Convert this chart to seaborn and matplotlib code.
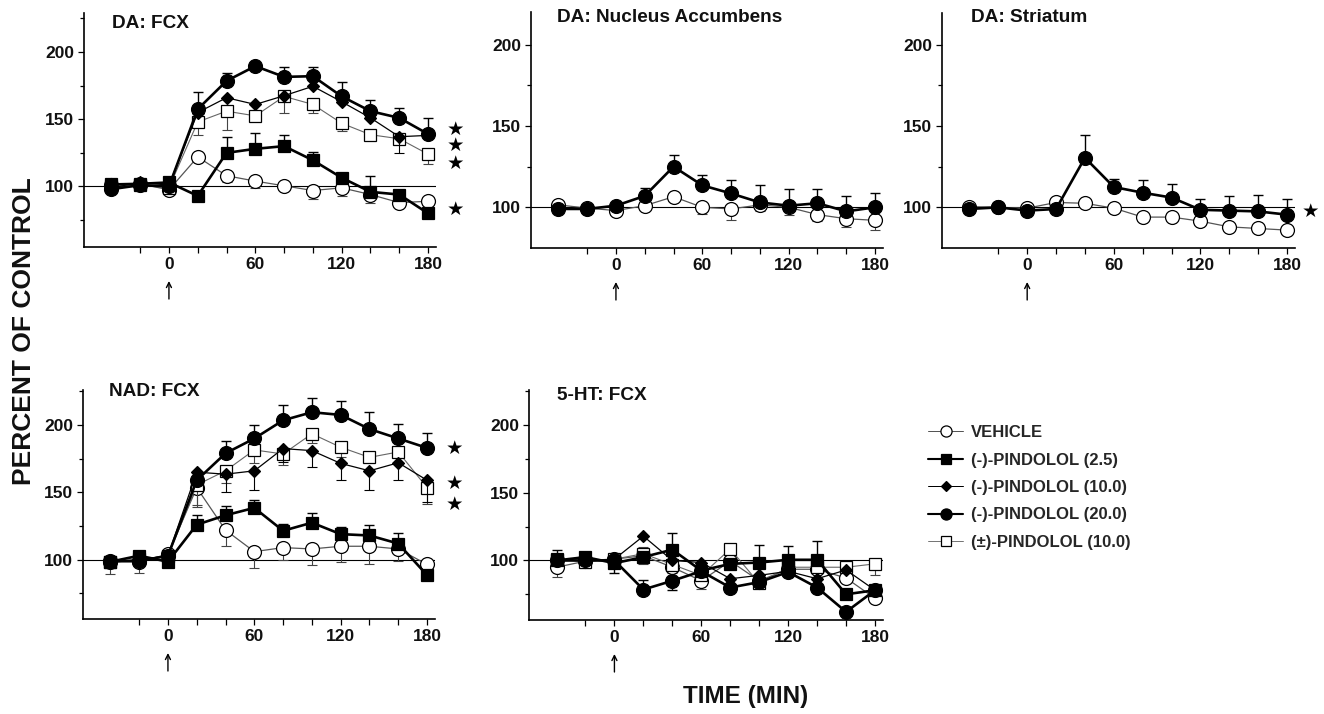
import numpy as np
import pandas as pd
import matplotlib
matplotlib.use("Agg")
import matplotlib.pyplot as plt
from matplotlib.lines import Line2D
import seaborn as sns

# ---------------------------------------------------------------- data
time_min = [-40, -20, 0, 20, 40, 60, 80, 100, 120, 140, 160, 180]

labels = ["VEHICLE", "(-)-PINDOLOL (2.5)", "(-)-PINDOLOL (10.0)",
          "(-)-PINDOLOL (20.0)", "(\u00b1)-PINDOLOL (10.0)"]
panel_titles = ["DA: FCX", "DA: Nucleus Accumbens", "DA: Striatum",
                "NAD: FCX", "5-HT: FCX"]

# error values: positive = SEM bar drawn upward, negative = drawn downward
# DA: FCX
da_fcx_vehicle = [101, 102, 97.5, 122, 108, 104, 100.5, 97, 99, 94, 88, 89]
da_fcx_vehicle_err = [-3, -2, -3, 0, -5, -5, -3, -6, -6, -6, -3, -3]
da_fcx_p25 = [101.5, 102, 103, 93, 125, 128, 130, 119.5, 106.5, 96, 94, 80]
da_fcx_p25_err = [2, 2, 2, 0, 12, 12, 8, 6, 0, 12, 0, 0]
da_fcx_p10 = [99, 103, 101, 155, 166, 161, 167.5, 174.5, 163, 151, 137, 138]
da_fcx_p10_err = [0, 0, 0, 0, 0, 0, 0, 0, 0, 0, -12, 0]
da_fcx_p20 = [98, 101, 100, 157.5, 178.5, 189.5, 181.5, 182, 167, 156, 151, 139]
da_fcx_p20_err = [0, 0, 0, 13, 6, 0, 7, 7, 11, 8, 7, 12]
da_fcx_pm10 = [100, 101, 99, 148, 156, 152.5, 167, 161, 147, 138.5, 135.5, 124]
da_fcx_pm10_err = [-4, 0, -4, -10, -14, 0, -12, -6, -6, 0, 0, -7]
da_fcx_stars = [142, 130, 116.5, 82]

# DA: Nucleus Accumbens
da_nac_vehicle = [101.5, 99.5, 98, 101, 106.5, 100, 99, 101.5, 100, 95.5, 93, 92]
da_nac_vehicle_err = [0, 0, 0, 0, 0, -4, -7, -4, -5, -4, -5, -6]
da_nac_p20 = [99, 99, 101, 107, 125, 113.5, 108.5, 103, 101, 102.5, 97.5, 100]
da_nac_p20_err = [0, 0, 0, 5, 7, 6.5, 8, 11, 10, 9, 9.5, 9]

# DA: Striatum
da_str_vehicle = [100.5, 100, 99.5, 103, 102.5, 99.5, 94, 94, 91.5, 88, 87, 86]
da_str_vehicle_err = [0, 0, 2.5, 0, 0, 0, 0, 0, 0, 0, 0, 0]
da_str_p20 = [99, 100, 98, 99, 130.5, 112.5, 109, 106, 98.5, 98, 97.5, 95.5]
da_str_p20_err = [0, 0, 0, 0, 14, 5, 8, 8.5, 6.5, 9, 10, 9.5]
da_str_stars = [97]

# NAD: FCX
nad_fcx_vehicle = [98.5, 98.5, 104, 153.5, 122, 106, 109, 108, 110, 110, 108, 96.5]
nad_fcx_vehicle_err = [-9, -8, 0, -14, -12, -12, -9, -12, -12, -13, -9, 0]
nad_fcx_p25 = [98.5, 103, 98.5, 126, 133, 138.5, 121.5, 127.5, 119, 118, 112, 88.5]
nad_fcx_p25_err = [0, 0, 0, 7, 7, 5.5, 5, 7.5, 5, 7.5, 8, 0]
nad_fcx_p10 = [98, 100, 103, 165, 163.5, 166, 182.5, 181, 171.5, 166, 172, 159]
nad_fcx_p10_err = [0, 0, 0, 0, -13, -14, -10, -12.5, -12.5, -14, -12.5, -16]
nad_fcx_p20 = [99, 99, 103, 159, 179, 190, 203.5, 209.5, 207.5, 197, 190, 183]
nad_fcx_p20_err = [0, 0, 0, 0, 9.5, 10, 11, 10.5, 10.5, 13, 10.5, 11]
nad_fcx_pm10 = [98.5, 100.5, 102.5, 155.5, 166, 181.5, 178.5, 193.5, 183.5, 176, 180, 153.5]
nad_fcx_pm10_err = [0, 0, 0, -15, -9, -9.5, -8.5, -7, -7, 0, 0, -12]
nad_fcx_stars = [182, 156, 140]

# 5-HT: FCX
ht_fcx_vehicle = [95, 99.5, 101, 103.5, 95, 85, 99.5, 85, 93.5, 93.5, 87, 72]
ht_fcx_vehicle_err = [-7, -5, 4, -6, -4, -6, 0, -4, -6, -6, 0, 0]
ht_fcx_p25 = [100, 102.5, 98, 102.5, 108, 92.5, 97.5, 98.5, 100.5, 100.5, 75, 78]
ht_fcx_p25_err = [0, 0, 0, 0, 12, 0, 0, 13, 10, 14, 0, 0]
ht_fcx_p10 = [100, 100, 101, 118, 100, 98.5, 86.5, 89, 92, 86.5, 93, 78]
ht_fcx_p10_err = [0, 0, 0, 0, 0, 0, 0, 0, 0, 0, 0, 0]
ht_fcx_p20 = [100, 100, 100, 78.5, 85, 92, 80, 84, 91.5, 80, 62, 78]
ht_fcx_p20_err = [8, 0, -9, 7, -7, 0, 0, 0, 0, -3, 0, 0]
ht_fcx_pm10 = [101, 99, 101, 105, 97, 89, 108.5, 83, 95, 95, 95, 97.5]
ht_fcx_pm10_err = [0, 0, 0, 5, 0, 0, 0, 0, 0, 0, 0, -8]

# ---------------------------------------------------------------- styles
STYLES = [
    dict(line="#555555", lw=0.9, marker="o", ms=10, mfc="white", mew=0.9, ecol="#444444", elw=0.8, z=3),
    dict(line="black", lw=1.9, marker="s", ms=9, mfc="black", mew=0.9, ecol="black", elw=1.0, z=4),
    dict(line="black", lw=0.9, marker="D", ms=6.5, mfc="black", mew=0.9, ecol="black", elw=0.8, z=5),
    dict(line="black", lw=1.9, marker="o", ms=10, mfc="black", mew=0.9, ecol="black", elw=1.0, z=6),
    dict(line="#666666", lw=0.8, marker="s", ms=9, mfc="white", mew=0.9, ecol="#444444", elw=0.8, z=3.5),
]

sns.set_theme(style="ticks")
plt.rcParams["font.family"] = ["Liberation Sans", "DejaVu Sans"]
plt.rcParams["font.weight"] = "bold"
plt.rcParams["axes.edgecolor"] = "black"

W, H = 1324, 714
fig = plt.figure(figsize=(W / 100, H / 100), dpi=100)
fig.patch.set_facecolor("white")


def add_panel(l, t, r, b):
    return fig.add_axes([l / W, 1 - b / H, (r - l) / W, (b - t) / H])


def draw_series(ax, idx, y, err):
    st = STYLES[idx]
    e = np.asarray(err, dtype=float)
    lower = np.where(e < 0, -e, 0.0)
    upper = np.where(e > 0, e, 0.0)
    if np.any(e != 0):
        ax.errorbar(time_min, y, yerr=[lower, upper], fmt="none",
                    ecolor=st["ecol"], elinewidth=st["elw"], capsize=3.5,
                    capthick=st["elw"], zorder=st["z"] - 0.5)
    df = pd.DataFrame({"time": time_min, "value": y})
    sns.lineplot(data=df, x="time", y="value", ax=ax, color=st["line"],
                 linewidth=st["lw"], marker=st["marker"], markersize=st["ms"],
                 markerfacecolor=st["mfc"], markeredgecolor="black",
                 markeredgewidth=st["mew"], zorder=st["z"], legend=False,
                 errorbar=None, label=labels[idx])


def style_panel(ax, title, ylim, title_dx, title_dy, ax_w, ax_h):
    ax.set_xlim(-59, 185.5)
    ax.set_ylim(*ylim)
    ax.axhline(100, color="black", lw=0.8, zorder=1)
    ax.set_xticks([0, 60, 120, 180])
    ax.set_xticks([-20, 20, 40, 80, 100, 140, 160], minor=True)
    ax.set_yticks([100, 150, 200])
    ax.set_yticks([v for v in (75, 125, 175, 225) if ylim[0] < v < ylim[1]], minor=True)
    ax.tick_params(which="both", direction="out", length=4, width=0.9,
                   color="black", labelsize=12.5, pad=3, labelcolor="#111111")
    ax.tick_params(axis="y", which="minor", length=3)
    for s in ("left", "bottom"):
        ax.spines[s].set_linewidth(1.2)
    sns.despine(ax=ax)
    ax.set_xlabel("")
    ax.set_ylabel("")
    ax.text(title_dx / ax_w, 1 - title_dy / ax_h, title, transform=ax.transAxes,
            ha="left", va="center", fontsize=13.7, fontweight="bold", color="#111111")
    # injection time marker (arrow under t = 0)
    ax.annotate("", xy=(0, -34 / ax_h), xycoords=("data", "axes fraction"),
                xytext=(0, -52 / ax_h), textcoords=("data", "axes fraction"),
                arrowprops=dict(arrowstyle="->", lw=1.0, color="black",
                                shrinkA=0, shrinkB=0, mutation_scale=9),
                annotation_clip=False)


def add_stars(ax, ys, x=199):
    for yv in ys:
        ax.text(x, yv, "\u2605", ha="center", va="center", fontsize=14,
                color="black", clip_on=False)


# panel frames (pixel boxes: left, top, right, bottom)
ax1 = add_panel(84, 13, 436, 247)
ax2 = add_panel(531, 12, 883, 248)
ax3 = add_panel(942, 13, 1295, 248)
ax4 = add_panel(83, 390, 435, 619)
ax5 = add_panel(529, 390, 883, 620)

# DA: FCX
for i, (y, e) in enumerate([(da_fcx_vehicle, da_fcx_vehicle_err),
                            (da_fcx_p25, da_fcx_p25_err),
                            (da_fcx_p10, da_fcx_p10_err),
                            (da_fcx_p20, da_fcx_p20_err),
                            (da_fcx_pm10, da_fcx_pm10_err)]):
    draw_series(ax1, i, y, e)
style_panel(ax1, panel_titles[0], (55, 229), 28, 10, 352, 234)
add_stars(ax1, da_fcx_stars)

# DA: Nucleus Accumbens
draw_series(ax2, 0, da_nac_vehicle, da_nac_vehicle_err)
draw_series(ax2, 3, da_nac_p20, da_nac_p20_err)
style_panel(ax2, panel_titles[1], (75, 220), 26, 6, 352, 236)

# DA: Striatum
draw_series(ax3, 0, da_str_vehicle, da_str_vehicle_err)
draw_series(ax3, 3, da_str_p20, da_str_p20_err)
style_panel(ax3, panel_titles[2], (75, 219.5), 29, 4, 353, 235)
add_stars(ax3, da_str_stars, x=196)

# NAD: FCX
for i, (y, e) in enumerate([(nad_fcx_vehicle, nad_fcx_vehicle_err),
                            (nad_fcx_p25, nad_fcx_p25_err),
                            (nad_fcx_p10, nad_fcx_p10_err),
                            (nad_fcx_p20, nad_fcx_p20_err),
                            (nad_fcx_pm10, nad_fcx_pm10_err)]):
    draw_series(ax4, i, y, e)
style_panel(ax4, panel_titles[3], (56, 226), 26, 2, 352, 229)
add_stars(ax4, nad_fcx_stars)

# 5-HT: FCX
for i, (y, e) in enumerate([(ht_fcx_vehicle, ht_fcx_vehicle_err),
                            (ht_fcx_p25, ht_fcx_p25_err),
                            (ht_fcx_p10, ht_fcx_p10_err),
                            (ht_fcx_p20, ht_fcx_p20_err),
                            (ht_fcx_pm10, ht_fcx_pm10_err)]):
    draw_series(ax5, i, y, e)
style_panel(ax5, panel_titles[4], (56, 226), 28, 5, 354, 230)

# legend
handles = [Line2D([], [], color=st["line"], lw=st["lw"] * 0.8, marker=st["marker"],
                  markersize=st["ms"] * 0.8, markerfacecolor=st["mfc"],
                  markeredgecolor="black", markeredgewidth=st["mew"])
           for st in STYLES]
fig.legend(handles, labels, loc="upper left", bbox_to_anchor=(928 / W, 1 - 425 / H),
           frameon=False, borderpad=0, borderaxespad=0, handlelength=2.1,
           handletextpad=0.45, labelspacing=0.75,
           prop=dict(family="Liberation Sans", weight="bold", size=12))

fig.text(24 / W, 1 - 331 / H, "PERCENT OF CONTROL", rotation=90, ha="center",
         va="center", fontsize=19, fontweight="bold", color="#111111")
fig.text(746 / W, 1 - 697 / H, "TIME (MIN)", ha="center", va="center",
         fontsize=17.5, fontweight="bold", color="#111111")

fig.savefig("out.png", dpi=100, facecolor="white")
